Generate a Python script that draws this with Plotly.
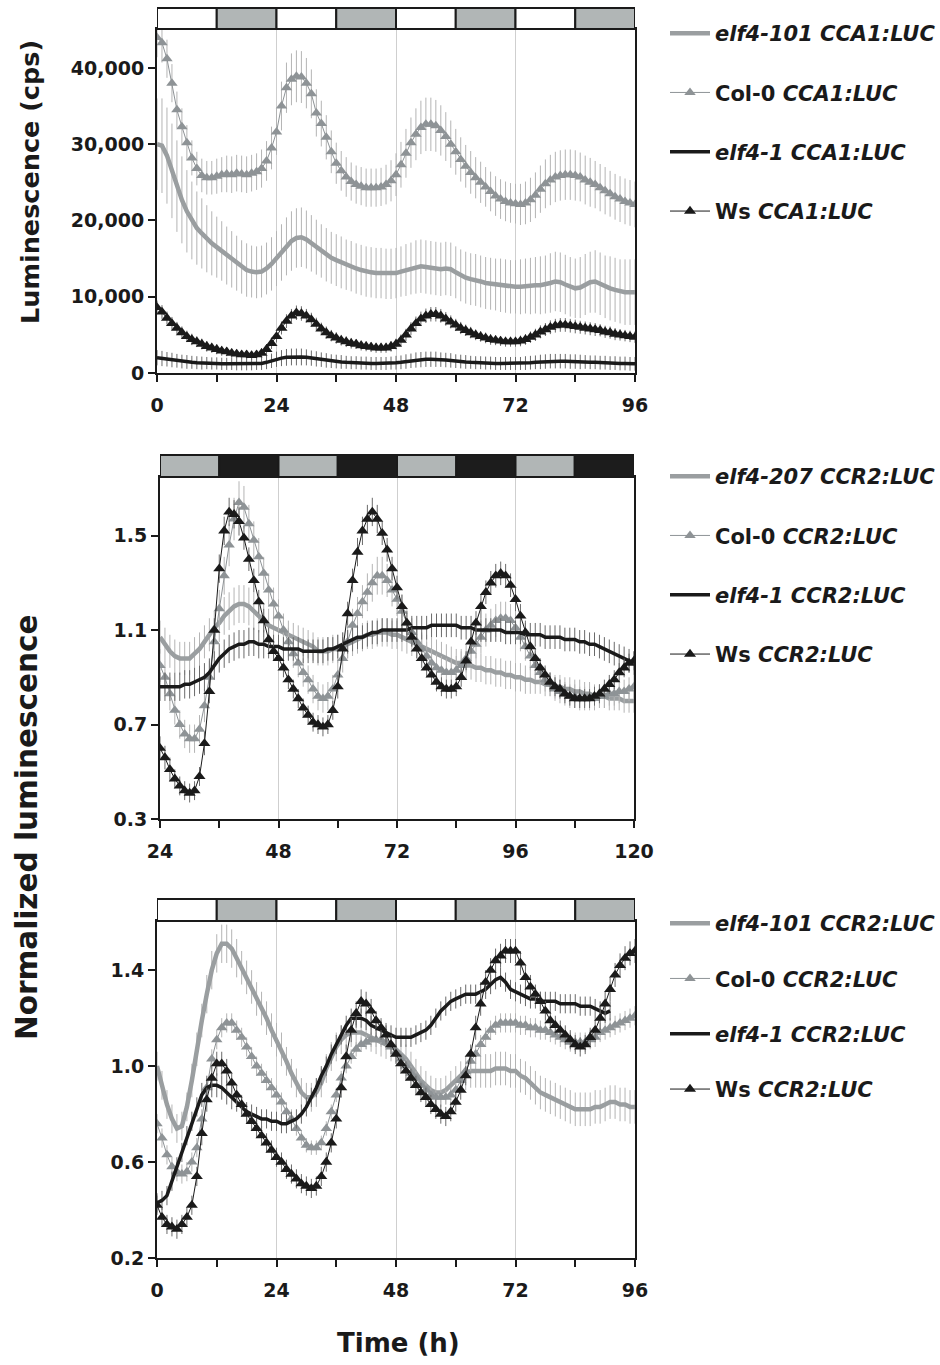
import plotly.graph_objects as go

# ---------------- time axes (h) ----------------
hours_0_96 = list(range(0, 97))
hours_24_120 = list(range(24, 121))
hours_elf41_ccr2 = list(range(0, 92))

# ---------------- CCA1:LUC, luminescence (cps), 0-96 h ----------------
cca1_elf4_101 = [
    30000, 29800, 28500, 26500, 24500, 22700, 21200, 20000, 19000, 18300, 17600, 17000,
    16500, 16000, 15400, 14900, 14400, 13900, 13500, 13300, 13200, 13300, 13700, 14300,
    15000, 15800, 16600, 17300, 17700, 17800, 17500, 17000, 16500, 16000, 15500, 15100,
    14800, 14500, 14200, 14000, 13700, 13500, 13300, 13200, 13100, 13100, 13000, 13000,
    13100, 13300, 13500, 13700, 13900, 14000, 13900, 13800, 13700, 13600, 13700, 13600,
    13200, 12800, 12500, 12300, 12200, 12000, 11800, 11700, 11600, 11500, 11400, 11300,
    11300, 11300, 11400, 11400, 11500, 11500, 11600, 11800, 12000, 11900, 11600, 11300,
    11100, 11200, 11600, 11900, 12000, 11700, 11300, 11100, 10900, 10700, 10600, 10600,
    10600]
cca1_elf4_101_err = [
    6000, 6200, 6300, 6200, 6000, 5700, 5400, 5100, 4800, 4600, 4400, 4200,
    4000, 3900, 3800, 3700, 3600, 3500, 3500, 3400, 3400, 3400, 3400, 3500,
    3600, 3700, 3800, 3900, 3900, 3900, 3800, 3700, 3600, 3500, 3500, 3400,
    3400, 3400, 3300, 3300, 3300, 3300, 3300, 3300, 3300, 3300, 3300, 3300,
    3300, 3300, 3400, 3400, 3500, 3500, 3500, 3500, 3500, 3500, 3500, 3500,
    3400, 3400, 3400, 3400, 3400, 3400, 3400, 3400, 3400, 3500, 3500, 3500,
    3500, 3600, 3600, 3700, 3700, 3800, 3800, 3900, 3900, 3900, 3900, 3900,
    3900, 4000, 4000, 4000, 4100, 4100, 4100, 4200, 4200, 4200, 4300, 4300,
    4300]
cca1_col0 = [
    44000, 43300, 41200, 38000, 34500, 32300, 30200, 28200, 26800, 25900, 25600, 25600,
    25800, 26000, 26100, 26000, 26200, 26100, 26000, 26200, 26400, 26800, 27800, 29500,
    31600, 35000, 37400, 38500, 38900, 38800, 38000, 36600, 34100, 32700, 30900, 29000,
    27500, 26500, 25700, 25100, 24700, 24500, 24300, 24300, 24300, 24400, 24700, 25200,
    26000, 27300, 28800, 30200, 31300, 32200, 32600, 32600, 32400, 31800, 31000, 30000,
    29000, 28000, 27100, 26300, 25600, 25000, 24400, 23800, 23200, 22800, 22500, 22300,
    22200, 22100, 22300, 22700, 23300, 24100, 24800, 25300, 25700, 25900, 26000, 26000,
    25900, 25700, 25300, 25000, 24700, 24300, 23900, 23500, 23100, 22800, 22500, 22300,
    22100]
cca1_col0_err = [
    2600, 2600, 2500, 2500, 2400, 2400, 2300, 2300, 2200, 2200, 2200, 2200,
    2300, 2300, 2400, 2400, 2400, 2400, 2400, 2400, 2400, 2500, 2600, 2800,
    3000, 3200, 3300, 3400, 3400, 3400, 3300, 3200, 3100, 3000, 2900, 2800,
    2700, 2600, 2600, 2500, 2500, 2500, 2500, 2500, 2500, 2500, 2600, 2700,
    2800, 3000, 3200, 3300, 3400, 3500, 3500, 3500, 3400, 3300, 3200, 3100,
    3000, 2900, 2800, 2800, 2700, 2700, 2600, 2600, 2600, 2600, 2600, 2600,
    2600, 2700, 2800, 2900, 3000, 3100, 3200, 3300, 3300, 3300, 3300, 3300,
    3300, 3200, 3200, 3200, 3100, 3100, 3100, 3000, 3000, 3000, 3000, 3000,
    3000]
cca1_elf4_1 = [
    2000, 1900, 1800, 1700, 1600, 1500, 1450, 1400, 1350, 1300, 1300, 1250,
    1250, 1200, 1200, 1200, 1150, 1150, 1150, 1150, 1200, 1250, 1400, 1600,
    1800, 1950, 2050, 2100, 2100, 2100, 2050, 1950, 1850, 1750, 1650, 1550,
    1500, 1450, 1400, 1350, 1350, 1300, 1300, 1250, 1250, 1250, 1250, 1300,
    1350, 1400, 1500, 1600, 1700, 1750, 1800, 1800, 1800, 1750, 1700, 1650,
    1550, 1500, 1450, 1400, 1350, 1350, 1300, 1300, 1250, 1250, 1250, 1250,
    1250, 1250, 1300, 1350, 1400, 1450, 1500, 1550, 1550, 1550, 1550, 1500,
    1500, 1450, 1450, 1400, 1400, 1350, 1350, 1300, 1300, 1250, 1250, 1200,
    1200]
cca1_elf4_1_err = [
    1000, 1000, 950, 950, 900, 900, 900, 850, 850, 850, 800, 800,
    800, 800, 800, 800, 800, 800, 800, 800, 800, 850, 900, 950,
    1000, 1050, 1100, 1100, 1100, 1100, 1050, 1000, 1000, 950, 950, 900,
    900, 900, 850, 850, 850, 850, 850, 850, 850, 850, 850, 850,
    900, 900, 950, 950, 1000, 1000, 1000, 1000, 1000, 950, 950, 950,
    900, 900, 900, 850, 850, 850, 850, 850, 850, 850, 850, 850,
    850, 850, 900, 900, 900, 950, 950, 950, 950, 950, 950, 950,
    950, 950, 900, 900, 900, 900, 900, 900, 900, 900, 900, 900,
    900]
cca1_ws = [
    8600, 8000, 7200, 6500, 5900, 5300, 4800, 4400, 4100, 3800, 3500, 3300,
    3100, 2900, 2800, 2600, 2500, 2400, 2400, 2300, 2400, 2600, 3100, 3900,
    4800, 5900, 6800, 7500, 7900, 7800, 7500, 7000, 6400, 5800, 5300, 4900,
    4600, 4300, 4100, 3900, 3800, 3600, 3500, 3400, 3300, 3300, 3300, 3500,
    3800, 4300, 5000, 5800, 6500, 7100, 7500, 7700, 7700, 7500, 7100, 6700,
    6300, 5900, 5600, 5300, 5000, 4800, 4600, 4400, 4300, 4200, 4100, 4100,
    4100, 4200, 4400, 4700, 5000, 5400, 5700, 6000, 6200, 6300, 6300, 6200,
    6100, 6000, 5900, 5800, 5700, 5600, 5400, 5300, 5100, 5000, 4900, 4800,
    4700]
cca1_ws_err = [
    900, 900, 850, 850, 800, 800, 750, 750, 700, 700, 700, 650,
    650, 650, 600, 600, 600, 600, 600, 600, 600, 650, 700, 750,
    800, 850, 900, 900, 950, 950, 900, 900, 850, 800, 800, 750,
    750, 700, 700, 700, 650, 650, 650, 650, 650, 650, 650, 700,
    700, 750, 800, 850, 900, 950, 950, 950, 950, 900, 900, 850,
    800, 800, 750, 750, 700, 700, 700, 700, 650, 650, 650, 650,
    650, 700, 700, 750, 800, 850, 850, 900, 900, 900, 900, 900,
    900, 850, 850, 850, 850, 800, 800, 800, 800, 750, 750, 750,
    750]

# ---------------- CCR2:LUC, free run 24-120 h (normalized) ----------------
ccr2_fr_elf4_207 = [
    1.07, 1.04, 1.01, 0.99, 0.98, 0.98, 0.98, 1.00, 1.02, 1.05, 1.08, 1.11,
    1.13, 1.16, 1.18, 1.20, 1.21, 1.21, 1.20, 1.18, 1.16, 1.14, 1.12, 1.11,
    1.10, 1.09, 1.08, 1.07, 1.06, 1.05, 1.04, 1.03, 1.01, 1.01, 1.01, 1.02,
    1.02, 1.03, 1.04, 1.05, 1.06, 1.07, 1.08, 1.08, 1.09, 1.09, 1.09, 1.08,
    1.08, 1.07, 1.06, 1.05, 1.04, 1.03, 1.02, 1.01, 1.00, 0.99, 0.98, 0.97,
    0.96, 0.96, 0.95, 0.95, 0.94, 0.94, 0.93, 0.93, 0.92, 0.92, 0.91, 0.91,
    0.90, 0.90, 0.89, 0.89, 0.88, 0.88, 0.87, 0.87, 0.86, 0.86, 0.85, 0.85,
    0.84, 0.84, 0.83, 0.83, 0.82, 0.82, 0.82, 0.81, 0.81, 0.81, 0.80, 0.80,
    0.80]
ccr2_fr_elf4_207_err = [
    0.07, 0.07, 0.07, 0.07, 0.07, 0.07, 0.07, 0.07, 0.07, 0.07, 0.07, 0.07,
    0.08, 0.08, 0.08, 0.08, 0.08, 0.08, 0.08, 0.08, 0.07, 0.07, 0.07, 0.07,
    0.07, 0.07, 0.06, 0.06, 0.06, 0.06, 0.06, 0.06, 0.06, 0.06, 0.06, 0.06,
    0.06, 0.06, 0.06, 0.06, 0.06, 0.06, 0.06, 0.06, 0.06, 0.06, 0.06, 0.06,
    0.06, 0.06, 0.06, 0.06, 0.06, 0.06, 0.06, 0.06, 0.06, 0.06, 0.06, 0.06,
    0.06, 0.06, 0.06, 0.06, 0.06, 0.06, 0.06, 0.06, 0.06, 0.06, 0.06, 0.06,
    0.06, 0.06, 0.06, 0.06, 0.05, 0.05, 0.05, 0.05, 0.05, 0.05, 0.05, 0.05,
    0.05, 0.05, 0.05, 0.05, 0.05, 0.05, 0.05, 0.05, 0.05, 0.05, 0.05, 0.05,
    0.05]
ccr2_fr_col0 = [
    0.95, 0.90, 0.83, 0.76, 0.70, 0.66, 0.64, 0.64, 0.68, 0.78, 0.90, 1.05,
    1.19, 1.33, 1.46, 1.57, 1.64, 1.62, 1.55, 1.48, 1.41, 1.34, 1.27, 1.21,
    1.16, 1.10, 1.05, 1.00, 0.96, 0.92, 0.89, 0.85, 0.82, 0.81, 0.82, 0.85,
    0.91, 0.98, 1.05, 1.12, 1.17, 1.22, 1.26, 1.30, 1.33, 1.33, 1.31, 1.27,
    1.23, 1.18, 1.13, 1.09, 1.05, 1.02, 0.99, 0.96, 0.94, 0.93, 0.92, 0.92,
    0.93, 0.95, 0.98, 1.01, 1.04, 1.07, 1.10, 1.12, 1.14, 1.15, 1.15, 1.14,
    1.11, 1.07, 1.03, 0.99, 0.95, 0.92, 0.89, 0.87, 0.85, 0.84, 0.83, 0.82,
    0.82, 0.81, 0.81, 0.81, 0.81, 0.82, 0.82, 0.83, 0.83, 0.84, 0.84, 0.85,
    0.86]
ccr2_fr_col0_err = [
    0.07, 0.07, 0.07, 0.06, 0.06, 0.06, 0.06, 0.06, 0.06, 0.07, 0.07, 0.07,
    0.08, 0.08, 0.09, 0.09, 0.09, 0.09, 0.08, 0.08, 0.08, 0.07, 0.07, 0.07,
    0.07, 0.07, 0.06, 0.06, 0.06, 0.06, 0.06, 0.06, 0.06, 0.06, 0.06, 0.06,
    0.06, 0.06, 0.07, 0.07, 0.07, 0.07, 0.08, 0.08, 0.08, 0.08, 0.07, 0.07,
    0.07, 0.07, 0.06, 0.06, 0.06, 0.06, 0.06, 0.06, 0.06, 0.06, 0.06, 0.06,
    0.06, 0.06, 0.06, 0.06, 0.06, 0.07, 0.07, 0.07, 0.07, 0.07, 0.07, 0.07,
    0.07, 0.06, 0.06, 0.06, 0.06, 0.05, 0.05, 0.05, 0.05, 0.05, 0.05, 0.05,
    0.05, 0.05, 0.05, 0.05, 0.05, 0.05, 0.05, 0.05, 0.05, 0.05, 0.05, 0.05,
    0.05]
ccr2_fr_elf4_1 = [
    0.86, 0.86, 0.86, 0.86, 0.86, 0.87, 0.87, 0.88, 0.89, 0.90, 0.92, 0.95,
    0.98, 1.00, 1.02, 1.03, 1.04, 1.04, 1.05, 1.05, 1.04, 1.04, 1.03, 1.03,
    1.03, 1.02, 1.02, 1.02, 1.02, 1.01, 1.01, 1.01, 1.01, 1.01, 1.02, 1.02,
    1.03, 1.04, 1.05, 1.06, 1.07, 1.07, 1.08, 1.09, 1.09, 1.10, 1.10, 1.10,
    1.10, 1.10, 1.10, 1.11, 1.11, 1.11, 1.11, 1.12, 1.12, 1.12, 1.12, 1.12,
    1.12, 1.11, 1.11, 1.11, 1.10, 1.10, 1.10, 1.10, 1.10, 1.10, 1.09, 1.09,
    1.09, 1.09, 1.08, 1.08, 1.08, 1.08, 1.07, 1.07, 1.07, 1.07, 1.06, 1.06,
    1.06, 1.05, 1.05, 1.04, 1.04, 1.03, 1.02, 1.01, 1.00, 0.99, 0.98, 0.97,
    0.96]
ccr2_fr_elf4_1_err = [
    0.06, 0.06, 0.06, 0.06, 0.06, 0.06, 0.06, 0.06, 0.06, 0.06, 0.06, 0.06,
    0.06, 0.06, 0.06, 0.06, 0.06, 0.06, 0.06, 0.06, 0.06, 0.06, 0.05, 0.05,
    0.05, 0.05, 0.05, 0.05, 0.05, 0.05, 0.05, 0.05, 0.05, 0.05, 0.05, 0.05,
    0.05, 0.05, 0.05, 0.05, 0.05, 0.05, 0.05, 0.05, 0.05, 0.05, 0.05, 0.05,
    0.05, 0.05, 0.05, 0.05, 0.05, 0.05, 0.05, 0.05, 0.05, 0.05, 0.05, 0.05,
    0.05, 0.05, 0.05, 0.05, 0.05, 0.05, 0.05, 0.05, 0.05, 0.05, 0.05, 0.05,
    0.05, 0.05, 0.05, 0.05, 0.05, 0.05, 0.05, 0.05, 0.05, 0.05, 0.05, 0.05,
    0.05, 0.05, 0.05, 0.05, 0.05, 0.05, 0.05, 0.05, 0.05, 0.05, 0.05, 0.05,
    0.05]
ccr2_fr_ws = [
    0.60, 0.56, 0.51, 0.47, 0.44, 0.42, 0.41, 0.42, 0.48, 0.62, 0.84, 1.10,
    1.36, 1.52, 1.60, 1.59, 1.56, 1.49, 1.40, 1.31, 1.22, 1.14, 1.06, 1.01,
    0.98, 0.94, 0.89, 0.85, 0.81, 0.77, 0.74, 0.71, 0.70, 0.69, 0.70, 0.76,
    0.86, 1.02, 1.17, 1.31, 1.43, 1.52, 1.57, 1.60, 1.57, 1.51, 1.44, 1.36,
    1.28, 1.20, 1.13, 1.07, 1.02, 0.98, 0.94, 0.91, 0.88, 0.86, 0.85, 0.85,
    0.86, 0.90, 0.97, 1.05, 1.13, 1.20, 1.26, 1.30, 1.33, 1.34, 1.33, 1.29,
    1.23, 1.16, 1.09, 1.03, 0.98, 0.94, 0.91, 0.88, 0.86, 0.85, 0.83, 0.82,
    0.81, 0.81, 0.81, 0.81, 0.82, 0.83, 0.85, 0.87, 0.89, 0.92, 0.94, 0.96,
    0.97]
ccr2_fr_ws_err = [
    0.05, 0.05, 0.05, 0.04, 0.04, 0.04, 0.04, 0.04, 0.04, 0.05, 0.05, 0.05,
    0.06, 0.06, 0.06, 0.06, 0.06, 0.05, 0.05, 0.05, 0.05, 0.05, 0.05, 0.04,
    0.04, 0.04, 0.04, 0.04, 0.04, 0.04, 0.04, 0.04, 0.04, 0.04, 0.04, 0.04,
    0.05, 0.05, 0.05, 0.05, 0.06, 0.06, 0.06, 0.06, 0.06, 0.05, 0.05, 0.05,
    0.05, 0.05, 0.05, 0.04, 0.04, 0.04, 0.04, 0.04, 0.04, 0.04, 0.04, 0.04,
    0.04, 0.04, 0.04, 0.05, 0.05, 0.05, 0.05, 0.05, 0.05, 0.05, 0.05, 0.05,
    0.05, 0.05, 0.05, 0.04, 0.04, 0.04, 0.04, 0.04, 0.04, 0.04, 0.04, 0.04,
    0.04, 0.04, 0.04, 0.04, 0.04, 0.04, 0.04, 0.04, 0.04, 0.04, 0.04, 0.04,
    0.04]

# ---------------- CCR2:LUC, 0-96 h (normalized) ----------------
ccr2_elf4_101 = [
    1.00, 0.92, 0.84, 0.78, 0.74, 0.75, 0.83, 0.94, 1.07, 1.19, 1.30, 1.40,
    1.47, 1.51, 1.51, 1.49, 1.45, 1.41, 1.37, 1.33, 1.28, 1.24, 1.20, 1.15,
    1.11, 1.07, 1.02, 0.97, 0.93, 0.89, 0.87, 0.87, 0.89, 0.93, 0.99, 1.04,
    1.08, 1.11, 1.13, 1.14, 1.14, 1.14, 1.13, 1.12, 1.11, 1.10, 1.09, 1.08,
    1.07, 1.05, 1.03, 1.00, 0.97, 0.94, 0.92, 0.90, 0.89, 0.89, 0.90, 0.92,
    0.94, 0.96, 0.97, 0.98, 0.98, 0.98, 0.98, 0.98, 0.99, 0.99, 0.99, 0.98,
    0.98, 0.96, 0.95, 0.93, 0.91, 0.89, 0.88, 0.87, 0.86, 0.85, 0.84, 0.83,
    0.82, 0.82, 0.82, 0.82, 0.83, 0.83, 0.84, 0.85, 0.85, 0.84, 0.84, 0.83,
    0.83]
ccr2_elf4_101_err = [
    0.06, 0.06, 0.06, 0.06, 0.06, 0.06, 0.06, 0.07, 0.07, 0.07, 0.08, 0.08,
    0.08, 0.08, 0.08, 0.08, 0.08, 0.07, 0.07, 0.07, 0.07, 0.07, 0.07, 0.07,
    0.07, 0.07, 0.06, 0.06, 0.06, 0.06, 0.06, 0.06, 0.06, 0.06, 0.06, 0.06,
    0.06, 0.06, 0.06, 0.06, 0.06, 0.06, 0.06, 0.06, 0.06, 0.06, 0.06, 0.06,
    0.06, 0.06, 0.06, 0.06, 0.06, 0.06, 0.06, 0.06, 0.06, 0.06, 0.06, 0.06,
    0.06, 0.06, 0.07, 0.07, 0.07, 0.07, 0.07, 0.07, 0.07, 0.07, 0.07, 0.07,
    0.07, 0.07, 0.07, 0.07, 0.07, 0.07, 0.07, 0.07, 0.07, 0.07, 0.07, 0.07,
    0.07, 0.07, 0.07, 0.07, 0.07, 0.07, 0.07, 0.07, 0.07, 0.07, 0.07, 0.07,
    0.07]
ccr2_col0 = [
    0.76, 0.70, 0.63, 0.58, 0.56, 0.55, 0.56, 0.60, 0.66, 0.78, 0.91, 1.03,
    1.11, 1.16, 1.18, 1.18, 1.15, 1.12, 1.08, 1.04, 1.00, 0.97, 0.94, 0.91,
    0.88, 0.85, 0.81, 0.78, 0.74, 0.70, 0.67, 0.66, 0.66, 0.68, 0.74, 0.81,
    0.88, 0.95, 1.00, 1.04, 1.07, 1.09, 1.10, 1.11, 1.11, 1.11, 1.10, 1.08,
    1.06, 1.03, 1.00, 0.97, 0.95, 0.92, 0.90, 0.88, 0.87, 0.87, 0.87, 0.88,
    0.90, 0.94, 0.98, 1.02, 1.05, 1.09, 1.12, 1.15, 1.17, 1.18, 1.18, 1.18,
    1.18, 1.17, 1.17, 1.16, 1.16, 1.15, 1.15, 1.14, 1.13, 1.12, 1.11, 1.10,
    1.10, 1.10, 1.10, 1.11, 1.12, 1.14, 1.15, 1.16, 1.17, 1.18, 1.19, 1.20,
    1.21]
ccr2_col0_err = [
    0.04, 0.04, 0.04, 0.04, 0.04, 0.04, 0.04, 0.04, 0.04, 0.04, 0.04, 0.04,
    0.04, 0.04, 0.04, 0.04, 0.04, 0.04, 0.04, 0.04, 0.04, 0.04, 0.04, 0.04,
    0.04, 0.04, 0.04, 0.04, 0.03, 0.03, 0.03, 0.03, 0.03, 0.03, 0.03, 0.03,
    0.03, 0.03, 0.03, 0.03, 0.03, 0.03, 0.03, 0.03, 0.03, 0.03, 0.03, 0.03,
    0.03, 0.03, 0.03, 0.03, 0.03, 0.03, 0.03, 0.03, 0.03, 0.03, 0.03, 0.03,
    0.03, 0.03, 0.04, 0.04, 0.04, 0.04, 0.04, 0.04, 0.04, 0.04, 0.04, 0.04,
    0.04, 0.04, 0.04, 0.04, 0.04, 0.04, 0.04, 0.04, 0.04, 0.04, 0.04, 0.04,
    0.04, 0.04, 0.04, 0.04, 0.04, 0.04, 0.04, 0.04, 0.04, 0.04, 0.04, 0.04,
    0.04]
ccr2_elf4_1 = [
    0.43, 0.44, 0.46, 0.52, 0.58, 0.64, 0.71, 0.77, 0.83, 0.88, 0.91, 0.92,
    0.92, 0.91, 0.89, 0.87, 0.85, 0.83, 0.81, 0.80, 0.79, 0.78, 0.78, 0.77,
    0.77, 0.76, 0.76, 0.77, 0.78, 0.80, 0.83, 0.87, 0.91, 0.96, 1.00, 1.05,
    1.09, 1.13, 1.17, 1.20, 1.20, 1.20, 1.19, 1.17, 1.16, 1.15, 1.14, 1.13,
    1.12, 1.12, 1.12, 1.12, 1.13, 1.14, 1.15, 1.17, 1.20, 1.23, 1.25, 1.27,
    1.28, 1.29, 1.30, 1.30, 1.30, 1.31, 1.32, 1.34, 1.36, 1.37, 1.35, 1.32,
    1.31, 1.30, 1.29, 1.28, 1.28, 1.27, 1.27, 1.27, 1.27, 1.26, 1.26, 1.26,
    1.26, 1.25, 1.25, 1.25, 1.24, 1.23, 1.22, 1.23]
ccr2_elf4_1_err = [
    0.04, 0.04, 0.04, 0.04, 0.04, 0.04, 0.04, 0.04, 0.04, 0.05, 0.05, 0.05,
    0.05, 0.05, 0.05, 0.05, 0.04, 0.04, 0.04, 0.04, 0.04, 0.04, 0.04, 0.04,
    0.04, 0.04, 0.04, 0.04, 0.04, 0.04, 0.04, 0.04, 0.04, 0.04, 0.04, 0.04,
    0.04, 0.04, 0.04, 0.04, 0.04, 0.04, 0.04, 0.04, 0.04, 0.04, 0.04, 0.04,
    0.04, 0.04, 0.04, 0.04, 0.04, 0.04, 0.04, 0.04, 0.04, 0.04, 0.04, 0.04,
    0.04, 0.04, 0.04, 0.04, 0.04, 0.04, 0.04, 0.04, 0.04, 0.04, 0.04, 0.04,
    0.04, 0.04, 0.04, 0.04, 0.04, 0.04, 0.04, 0.04, 0.04, 0.04, 0.04, 0.04,
    0.04, 0.04, 0.04, 0.04, 0.04, 0.04, 0.04, 0.04]
ccr2_ws = [
    0.42, 0.37, 0.34, 0.33, 0.32, 0.34, 0.37, 0.42, 0.54, 0.72, 0.86, 0.95,
    1.01, 1.01, 0.98, 0.93, 0.88, 0.84, 0.80, 0.77, 0.74, 0.71, 0.68, 0.65,
    0.62, 0.60, 0.57, 0.55, 0.53, 0.51, 0.50, 0.49, 0.50, 0.54, 0.60, 0.68,
    0.78, 0.91, 1.04, 1.15, 1.22, 1.27, 1.26, 1.23, 1.19, 1.16, 1.13, 1.09,
    1.05, 1.01, 0.98, 0.95, 0.92, 0.89, 0.87, 0.84, 0.82, 0.80, 0.79, 0.81,
    0.85, 0.90, 0.96, 1.05, 1.16, 1.26, 1.35, 1.40, 1.44, 1.46, 1.48, 1.48,
    1.48, 1.43, 1.37, 1.33, 1.30, 1.27, 1.23, 1.19, 1.17, 1.15, 1.13, 1.11,
    1.09, 1.08, 1.09, 1.12, 1.15, 1.20, 1.26, 1.32, 1.38, 1.42, 1.45, 1.47,
    1.48]
ccr2_ws_err = [
    0.04, 0.04, 0.04, 0.04, 0.04, 0.04, 0.04, 0.04, 0.04, 0.05, 0.05, 0.05,
    0.05, 0.05, 0.05, 0.04, 0.04, 0.04, 0.04, 0.04, 0.04, 0.04, 0.04, 0.04,
    0.04, 0.04, 0.04, 0.04, 0.04, 0.04, 0.04, 0.04, 0.04, 0.04, 0.04, 0.04,
    0.04, 0.04, 0.05, 0.05, 0.05, 0.05, 0.05, 0.05, 0.04, 0.04, 0.04, 0.04,
    0.04, 0.04, 0.04, 0.04, 0.04, 0.04, 0.04, 0.04, 0.04, 0.04, 0.04, 0.04,
    0.04, 0.04, 0.04, 0.04, 0.05, 0.05, 0.05, 0.05, 0.05, 0.05, 0.05, 0.05,
    0.05, 0.05, 0.05, 0.05, 0.04, 0.04, 0.04, 0.04, 0.04, 0.04, 0.04, 0.04,
    0.04, 0.04, 0.04, 0.04, 0.05, 0.05, 0.05, 0.05, 0.05, 0.05, 0.05, 0.05,
    0.05]

# ---------------- photoperiod bars (12 h blocks) ----------------
phases_entrained = ["light", "dark", "light", "dark", "light", "dark", "light", "dark"]
phases_free_run = ["subjective day", "subjective night"] * 4

# ---------------- legend labels ----------------
labels_cca1 = ["<i>elf4-101 CCA1:LUC</i>", "Col-0 <i>CCA1:LUC</i>",
               "<i>elf4-1 CCA1:LUC</i>", "Ws <i>CCA1:LUC</i>"]
labels_ccr2_fr = ["<i>elf4-207 CCR2:LUC</i>", "Col-0 <i>CCR2:LUC</i>",
                  "<i>elf4-1 CCR2:LUC</i>", "Ws <i>CCR2:LUC</i>"]
labels_ccr2 = ["<i>elf4-101 CCR2:LUC</i>", "Col-0 <i>CCR2:LUC</i>",
               "<i>elf4-1 CCR2:LUC</i>", "Ws <i>CCR2:LUC</i>"]

# ---------------- styling ----------------
W, H = 940, 1365
FONT = "DejaVu Sans"
INK = "#1a1a1a"
GREY_LINE = "#9a9ea0"
GREY_TRI = "#8e9396"
BLACK = "#1a1a1a"
ERR_GREY = "#b4b4b4"
ERR_DARK = "#6a6a6a"
BAR_GREY = "#b1b6b6"
BAR_BLACK = "#1c1c1c"

# pixel geometry of the three panels: (left, right, top, bottom, bar_top)
PANELS = [
    (157, 635, 29, 373, 8),
    (160, 634, 477, 819, 455),
    (157, 635, 921, 1258, 899),
]


def xdom(l, r):
    return [l / W, r / W]


def ydom(t, b):
    return [1 - b / H, 1 - t / H]


fig = go.Figure()

STYLES = {
    "mutant": dict(mode="lines", line=dict(color=GREY_LINE, width=4.5), err=ERR_GREY),
    "col0": dict(mode="lines+markers", line=dict(color=GREY_TRI, width=1),
                 marker=dict(symbol="triangle-up", size=10, color=GREY_TRI), err=ERR_GREY),
    "elf41": dict(mode="lines", line=dict(color=BLACK, width=3.5), err=ERR_DARK),
    "ws": dict(mode="lines+markers", line=dict(color=BLACK, width=1),
               marker=dict(symbol="triangle-up", size=10.5, color=BLACK), err=ERR_DARK),
}


def add(kind, x, y, err, name, axis_idx, legend):
    st = STYLES[kind]
    suffix = "" if axis_idx == 1 else str(axis_idx)
    kw = dict(
        x=x, y=y, name=name, mode=st["mode"], line=st["line"],
        error_y=dict(type="data", array=err, color=st["err"], thickness=1, width=0),
        xaxis="x" + suffix, yaxis="y" + suffix,
        legend=legend, legendgroup=legend + name,
    )
    if "marker" in st:
        kw["marker"] = st["marker"]
    fig.add_trace(go.Scatter(**kw))


# Panel 1: CCA1:LUC
add("mutant", hours_0_96, cca1_elf4_101, cca1_elf4_101_err, labels_cca1[0], 1, "legend")
add("col0", hours_0_96, cca1_col0, cca1_col0_err, labels_cca1[1], 1, "legend")
add("elf41", hours_0_96, cca1_elf4_1, cca1_elf4_1_err, labels_cca1[2], 1, "legend")
add("ws", hours_0_96, cca1_ws, cca1_ws_err, labels_cca1[3], 1, "legend")

# Panel 2: CCR2:LUC free run
add("mutant", hours_24_120, ccr2_fr_elf4_207, ccr2_fr_elf4_207_err, labels_ccr2_fr[0], 2, "legend2")
add("col0", hours_24_120, ccr2_fr_col0, ccr2_fr_col0_err, labels_ccr2_fr[1], 2, "legend2")
add("elf41", hours_24_120, ccr2_fr_elf4_1, ccr2_fr_elf4_1_err, labels_ccr2_fr[2], 2, "legend2")
add("ws", hours_24_120, ccr2_fr_ws, ccr2_fr_ws_err, labels_ccr2_fr[3], 2, "legend2")

# Panel 3: CCR2:LUC
add("mutant", hours_0_96, ccr2_elf4_101, ccr2_elf4_101_err, labels_ccr2[0], 3, "legend3")
add("col0", hours_0_96, ccr2_col0, ccr2_col0_err, labels_ccr2[1], 3, "legend3")
add("elf41", hours_elf41_ccr2, ccr2_elf4_1, ccr2_elf4_1_err, labels_ccr2[2], 3, "legend3")
add("ws", hours_0_96, ccr2_ws, ccr2_ws_err, labels_ccr2[3], 3, "legend3")

tickfont = dict(family=FONT, size=19, color=INK, weight="bold")


def xaxis_cfg(l, r, anchor, rng):
    return dict(
        domain=xdom(l, r), anchor=anchor, range=rng, automargin=False,
        tickmode="linear", tick0=rng[0], dtick=24,
        ticks="outside", ticklen=7, tickwidth=2, tickcolor=INK,
        showline=True, linewidth=2, linecolor=INK, mirror=True,
        showgrid=True, gridcolor="#cfcfcf", gridwidth=1,
        minor=dict(dtick=12, tick0=rng[0], ticks="outside", ticklen=7,
                   tickwidth=2, tickcolor=INK, showgrid=False),
        tickfont=tickfont, ticklabelstandoff=7, zeroline=False, fixedrange=True,
    )


def yaxis_cfg(t, b, anchor, rng, tickvals, fmt):
    return dict(
        domain=ydom(t, b), anchor=anchor, range=rng, automargin=False,
        tickmode="array", tickvals=tickvals, tickformat=fmt,
        ticks="outside", ticklen=7, tickwidth=2, tickcolor=INK,
        showline=True, linewidth=2, linecolor=INK, mirror=True,
        showgrid=False, zeroline=False, tickfont=tickfont,
        ticklabelstandoff=0, fixedrange=True,
    )


p1, p2, p3 = PANELS
layout = dict(
    width=W, height=H, autosize=False,
    margin=dict(l=0, r=0, t=0, b=0, pad=0, autoexpand=False),
    paper_bgcolor="white", plot_bgcolor="white",
    font=dict(family=FONT, color=INK),
    xaxis=xaxis_cfg(p1[0], p1[1], "y", [0, 96]),
    yaxis=yaxis_cfg(p1[2], p1[3], "x", [0, 45100], [0, 10000, 20000, 30000, 40000], ",d"),
    xaxis2=xaxis_cfg(p2[0], p2[1], "y2", [24, 120]),
    yaxis2=yaxis_cfg(p2[2], p2[3], "x2", [0.3, 1.748], [0.3, 0.7, 1.1, 1.5], ".1f"),
    xaxis3=xaxis_cfg(p3[0], p3[1], "y3", [0, 96]),
    yaxis3=yaxis_cfg(p3[2], p3[3], "x3", [0.2, 1.605], [0.2, 0.6, 1.0, 1.4], ".1f"),
    showlegend=True,
)

legend_font = dict(family=FONT, size=21, color=INK, weight="bold")
for key, top, gap in (("legend", 13, 29), ("legend2", 456, 29), ("legend3", 903, 25)):
    layout[key] = dict(
        x=665 / W, y=1 - top / H, xanchor="left", yanchor="top",
        font=legend_font, bgcolor="rgba(0,0,0,0)", borderwidth=0,
        tracegroupgap=gap, itemwidth=40, traceorder="grouped",
    )

fig.update_layout(**layout)

# Photoperiod bars above each panel
shapes = []
bar_specs = [
    (p1, "x", 0, phases_entrained),
    (p2, "x2", 24, phases_free_run),
    (p3, "x3", 0, phases_entrained),
]
fill_for = {"light": "white", "dark": BAR_GREY,
            "subjective day": BAR_GREY, "subjective night": BAR_BLACK}
for (l, r, t, b, bt), xref, start, phases in bar_specs:
    y0, y1 = 1 - t / H, 1 - bt / H
    for i, ph in enumerate(phases):
        shapes.append(dict(
            type="rect", xref=xref, yref="paper",
            x0=start + 12 * i, x1=start + 12 * (i + 1), y0=y0, y1=y1,
            fillcolor=fill_for[ph], line=dict(color=INK, width=2), layer="above",
        ))
fig.update_layout(shapes=shapes)

# Axis titles
fig.add_annotation(text="<b>Luminescence (cps)</b>", x=30 / W, y=1 - 182 / H,
                   xref="paper", yref="paper", xanchor="center", yanchor="middle",
                   showarrow=False, textangle=-90,
                   font=dict(family=FONT, size=25.5, color=INK))
fig.add_annotation(text="<b>Normalized luminescence</b>", x=27 / W, y=1 - 828 / H,
                   xref="paper", yref="paper", xanchor="center", yanchor="middle",
                   showarrow=False, textangle=-90,
                   font=dict(family=FONT, size=29.5, color=INK))
fig.add_annotation(text="<b>Time (h)</b>", x=398 / W, y=1 - 1343 / H,
                   xref="paper", yref="paper", xanchor="center", yanchor="middle",
                   showarrow=False,
                   font=dict(family=FONT, size=26, color=INK))

fig.write_html("out.html", post_script="document.body.style.margin='0';")
